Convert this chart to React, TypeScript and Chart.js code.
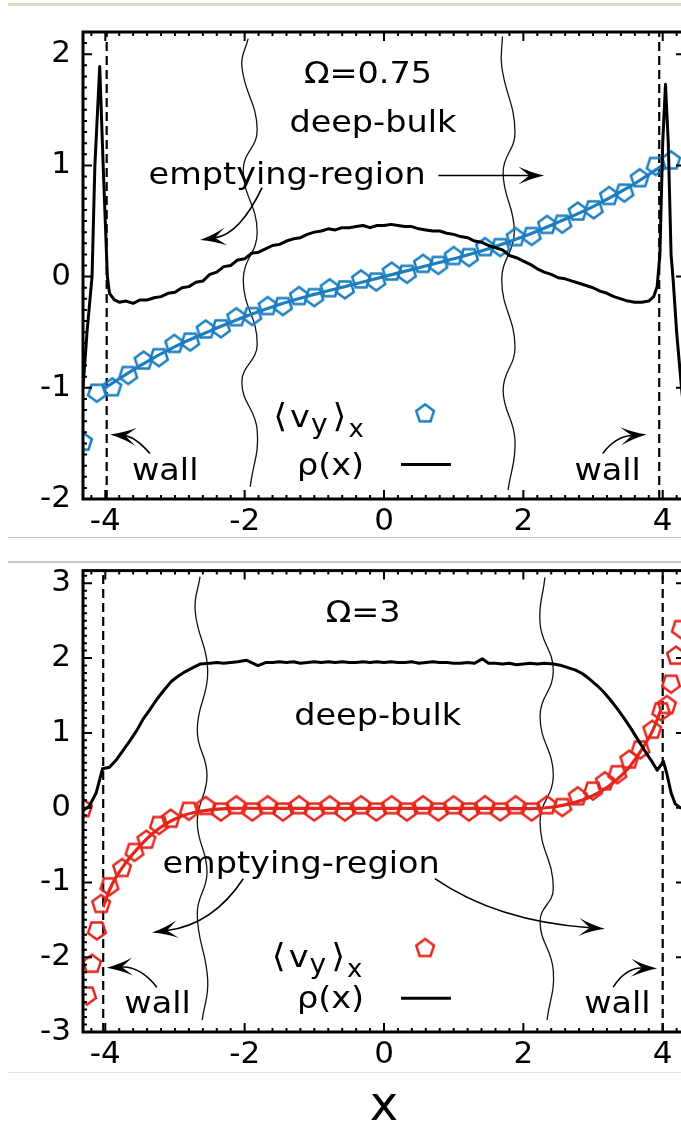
import React, { useEffect, useRef } from 'react';
import { Chart, registerables } from 'chart.js';

Chart.register(...registerables);

const FONT = "'DejaVu Sans', 'Noto Sans', sans-serif";
const BLUE = '#1b7ec0';
const RED = '#e3261d';

const X_MIN = -4.32;
const X_MAX = 4.32;
const X_TICKS = [-4, -2, 0, 2, 4];
const TOP_Y_TICKS = [-2, -1, 0, 1, 2];
const BOTTOM_Y_TICKS = [-3, -2, -1, 0, 1, 2, 3];

// ---------- top panel (Omega = 0.75) ----------
const TOP_RHO: [number, number][] = [
  [-4.32, -1.0], [-4.26, -0.48], [-4.19, 0.0], [-4.15, 0.99], [-4.08, 1.89], [-4.03, 0.99], [-3.97, 0.0],
  [-3.94, -0.15], [-3.87, -0.21], [-3.8, -0.23], [-3.7, -0.22], [-3.6, -0.24], [-3.5, -0.21], [-3.4, -0.21],
  [-3.3, -0.19], [-3.2, -0.18], [-3.1, -0.15], [-3.0, -0.14], [-2.9, -0.1], [-2.8, -0.09], [-2.7, -0.05],
  [-2.6, -0.04], [-2.5, 0.02], [-2.4, 0.04], [-2.3, 0.09], [-2.2, 0.1], [-2.1, 0.15], [-2.0, 0.16],
  [-1.9, 0.21], [-1.8, 0.22], [-1.7, 0.25], [-1.6, 0.28], [-1.5, 0.29], [-1.4, 0.32], [-1.3, 0.34],
  [-1.2, 0.35], [-1.1, 0.38], [-1.0, 0.4], [-0.9, 0.41], [-0.8, 0.43], [-0.7, 0.42], [-0.6, 0.44],
  [-0.5, 0.44], [-0.4, 0.45], [-0.3, 0.46], [-0.2, 0.44], [-0.1, 0.46], [0.0, 0.46], [0.1, 0.47],
  [0.2, 0.46], [0.3, 0.45], [0.4, 0.45], [0.5, 0.43], [0.6, 0.42], [0.7, 0.41], [0.8, 0.41], [0.9, 0.39],
  [1.0, 0.38], [1.1, 0.36], [1.2, 0.35], [1.3, 0.32], [1.4, 0.31], [1.5, 0.28], [1.6, 0.26], [1.7, 0.24],
  [1.8, 0.19], [1.9, 0.17], [2.0, 0.14], [2.1, 0.11], [2.2, 0.07], [2.3, 0.04], [2.4, 0.02], [2.5, -0.01],
  [2.6, -0.02], [2.7, -0.04], [2.8, -0.06], [2.9, -0.08], [3.0, -0.1], [3.1, -0.13], [3.2, -0.15],
  [3.3, -0.18], [3.4, -0.2], [3.5, -0.22], [3.6, -0.23], [3.7, -0.23], [3.8, -0.22], [3.87, -0.18],
  [3.92, -0.09], [3.96, 0.2], [4.0, 1.2], [4.04, 1.73], [4.08, 1.2], [4.12, 0.2], [4.15, -0.03],
  [4.2, -0.5], [4.27, -1.0], [4.32, -1.3],
];
const TOP_VY: [number, number][] = [
  [-4.32, -1.48], [-4.12, -1.05], [-3.9, -0.99], [-3.67, -0.89], [-3.45, -0.75], [-3.23, -0.73],
  [-3.01, -0.6], [-2.78, -0.59], [-2.56, -0.47], [-2.34, -0.47], [-2.12, -0.36], [-1.89, -0.36],
  [-1.67, -0.26], [-1.45, -0.27], [-1.22, -0.17], [-1.0, -0.19], [-0.78, -0.1], [-0.56, -0.12],
  [-0.33, -0.02], [-0.11, -0.05], [0.11, 0.05], [0.33, 0.02], [0.56, 0.12], [0.78, 0.1], [1.0, 0.19],
  [1.22, 0.17], [1.45, 0.27], [1.67, 0.26], [1.89, 0.36], [2.12, 0.36], [2.34, 0.47], [2.56, 0.47],
  [2.78, 0.59], [3.01, 0.6], [3.23, 0.73], [3.45, 0.75], [3.67, 0.89], [3.9, 0.99], [4.12, 1.05],
];
const TOP_FIT: [number, number][] = [
  [-4.0, -1.0], [-3.5, -0.8], [-3.0, -0.63], [-2.5, -0.49], [-2.0, -0.36], [-1.5, -0.25], [-1.0, -0.16],
  [-0.5, -0.08], [0.0, 0.0], [0.5, 0.08], [1.0, 0.16], [1.5, 0.25], [2.0, 0.36], [2.5, 0.49], [3.0, 0.63],
  [3.5, 0.8], [4.0, 1.0],
];
const TOP_WALLS = [-3.98, 3.95];
const TOP_WAVE_L: [number, number][] = [
  [-1.95, 2.14], [-2.04, 1.89], [-1.82, 1.32], [-2.02, 0.96], [-1.82, 0.4], [-2.02, -0.03],
  [-1.82, -0.61], [-2.04, -0.95], [-1.82, -1.38], [-1.92, -1.89],
];
const TOP_WAVE_R: [number, number][] = [
  [1.7, 2.16], [1.69, 1.89], [1.88, 1.3], [1.71, 0.94], [1.87, 0.4], [1.69, -0.03],
  [1.88, -0.63], [1.71, -1.02], [1.88, -1.47], [1.78, -1.92],
];

// ---------- bottom panel (Omega = 3) ----------
const BOTTOM_RHO: [number, number][] = [
  [-4.32, -0.04], [-4.23, 0.02], [-4.13, 0.2], [-4.04, 0.52], [-3.94, 0.54], [-3.85, 0.63], [-3.75, 0.76],
  [-3.65, 0.89], [-3.55, 1.03], [-3.46, 1.18], [-3.36, 1.31], [-3.26, 1.45], [-3.15, 1.58], [-3.05, 1.69],
  [-2.95, 1.76], [-2.85, 1.82], [-2.75, 1.87], [-2.64, 1.92], [-2.5, 1.93], [-2.4, 1.94], [-2.3, 1.93],
  [-2.2, 1.94], [-2.1, 1.95], [-1.97, 1.97], [-1.81, 1.9], [-1.7, 1.94], [-1.6, 1.94], [-1.5, 1.95],
  [-1.4, 1.94], [-1.3, 1.95], [-1.2, 1.93], [-1.1, 1.94], [-1.0, 1.95], [-0.9, 1.94], [-0.8, 1.95],
  [-0.7, 1.94], [-0.6, 1.95], [-0.5, 1.94], [-0.4, 1.94], [-0.3, 1.95], [-0.2, 1.94], [-0.1, 1.95],
  [0.0, 1.94], [0.1, 1.95], [0.2, 1.94], [0.3, 1.94], [0.4, 1.95], [0.5, 1.93], [0.6, 1.94], [0.7, 1.95],
  [0.8, 1.94], [0.9, 1.94], [1.0, 1.93], [1.1, 1.93], [1.2, 1.94], [1.3, 1.93], [1.41, 1.99], [1.5, 1.93],
  [1.6, 1.93], [1.7, 1.92], [1.8, 1.93], [1.9, 1.91], [2.0, 1.92], [2.1, 1.93], [2.2, 1.92], [2.3, 1.93],
  [2.43, 1.92], [2.55, 1.9], [2.65, 1.87], [2.75, 1.84], [2.85, 1.79], [2.95, 1.72], [3.05, 1.64],
  [3.15, 1.55], [3.25, 1.44], [3.35, 1.32], [3.45, 1.19], [3.55, 1.05], [3.65, 0.9], [3.75, 0.75],
  [3.85, 0.61], [3.92, 0.5], [4.01, 0.62], [4.06, 0.45], [4.12, 0.2], [4.18, 0.05], [4.25, 0.0], [4.32, -0.02],
];
const BOTTOM_VY: [number, number][] = [
  [-4.32, 0.0], [-4.26, -2.52], [-4.19, -2.08], [-4.12, -1.65], [-4.06, -1.28], [-3.94, -1.06],
  [-3.76, -0.8], [-3.58, -0.6], [-3.41, -0.42], [-3.23, -0.24], [-3.06, -0.14], [-2.8, -0.05],
  [-2.56, 0.03], [-2.34, -0.06], [-2.12, 0.04], [-1.89, -0.06], [-1.67, 0.04], [-1.45, -0.06],
  [-1.22, 0.04], [-1.0, -0.06], [-0.78, 0.04], [-0.56, -0.06], [-0.33, 0.04], [-0.11, -0.06],
  [0.11, 0.04], [0.33, -0.06], [0.56, 0.04], [0.78, -0.06], [1.0, 0.04], [1.22, -0.06], [1.45, 0.04],
  [1.67, -0.06], [1.89, 0.04], [2.12, -0.06], [2.34, 0.04], [2.56, 0.0], [2.78, 0.16], [3.0, 0.22],
  [3.17, 0.36], [3.35, 0.44], [3.52, 0.65], [3.68, 0.77], [3.85, 1.05], [3.98, 1.28], [4.06, 1.38],
  [4.12, 1.65], [4.19, 2.04], [4.26, 2.38],
];
const BOTTOM_FIT: [number, number][] = [
  [-4.03, -1.33], [-3.9, -1.02], [-3.7, -0.73], [-3.5, -0.51], [-3.3, -0.33], [-3.1, -0.2], [-2.9, -0.11],
  [-2.7, -0.06], [-2.5, -0.03], [-2.2, -0.01], [-1.5, -0.01], [0.0, -0.01], [1.5, -0.01], [2.2, -0.01],
  [2.5, 0.02], [2.7, 0.06], [2.9, 0.12], [3.1, 0.21], [3.3, 0.34], [3.5, 0.52], [3.7, 0.78], [3.85, 1.02],
  [3.97, 1.3],
];
const BOTTOM_WALLS = [-4.03, 4.0];
const BOTTOM_WAVE_L: [number, number][] = [
  [-2.64, 3.09], [-2.71, 2.63], [-2.53, 1.83], [-2.68, 1.04], [-2.54, 0.43], [-2.68, -0.19],
  [-2.54, -0.86], [-2.68, -1.42], [-2.53, -2.31], [-2.61, -2.84],
];
const BOTTOM_WAVE_R: [number, number][] = [
  [2.31, 3.08], [2.24, 2.46], [2.43, 1.83], [2.24, 1.22], [2.43, 0.43], [2.24, -0.19],
  [2.43, -1.08], [2.24, -1.52], [2.43, -2.18], [2.34, -2.84],
];

// ---------- annotations (data coordinates) ----------
type Txt = { t: string; x: number; y: number };
type Arrow = { from: [number, number]; ctrl: [number, number]; to: [number, number] };
type Legend = { vx: number; vy: number; mx: number; my: number; rx: number; ry: number; lx0: number; lx1: number; ly: number };

const TOP_TEXTS: Txt[] = [
  { t: 'Ω=0.75', x: -0.23, y: 1.74 },
  { t: 'deep-bulk', x: -0.16, y: 1.3 },
  { t: 'emptying-region', x: -1.39, y: 0.83 },
  { t: 'wall', x: -3.14, y: -1.83 },
  { t: 'wall', x: 3.21, y: -1.83 },
];
const TOP_ARROWS: Arrow[] = [
  { from: [0.78, 0.91], ctrl: [1.5, 0.91], to: [2.3, 0.91] },
  { from: [-1.75, 0.8], ctrl: [-2.07, 0.38], to: [-2.64, 0.33] },
  { from: [-3.36, -1.59], ctrl: [-3.57, -1.44], to: [-3.93, -1.42] },
  { from: [3.14, -1.59], ctrl: [3.32, -1.44], to: [3.77, -1.42] },
];
const TOP_LEGEND: Legend = { vx: -1.59, vy: -1.35, mx: 0.59, my: -1.225, rx: -1.25, ry: -1.78, lx0: 0.244, lx1: 0.96, ly: -1.69 };

const BOTTOM_TEXTS: Txt[] = [
  { t: 'Ω=3', x: -0.3, y: 2.48 },
  { t: 'deep-bulk', x: -0.09, y: 1.11 },
  { t: 'emptying-region', x: -1.19, y: -0.88 },
  { t: 'wall', x: -3.25, y: -2.75 },
  { t: 'wall', x: 3.35, y: -2.75 },
];
const BOTTOM_ARROWS: Arrow[] = [
  { from: [-2.02, -0.95], ctrl: [-2.45, -1.56], to: [-3.33, -1.67] },
  { from: [0.73, -0.95], ctrl: [1.62, -1.52], to: [3.17, -1.62] },
  { from: [-3.26, -2.4], ctrl: [-3.5, -2.12], to: [-3.98, -2.14] },
  { from: [3.29, -2.4], ctrl: [3.47, -2.14], to: [3.92, -2.15] },
];
const BOTTOM_LEGEND: Legend = { vx: -1.61, vy: -2.13, mx: 0.59, my: -1.87, rx: -1.25, ry: -2.68, lx0: 0.244, lx1: 0.96, ly: -2.55 };

// ---------- helpers ----------
const SX = 1.08;
const ANN = 31;
const SUB = 26;

function makePentagon(color: string): HTMLCanvasElement {
  const c = document.createElement('canvas');
  c.width = 28;
  c.height = 28;
  const g = c.getContext('2d')!;
  g.strokeStyle = color;
  g.lineWidth = 2.5;
  g.lineJoin = 'miter';
  g.beginPath();
  for (let k = 0; k < 5; k++) {
    const a = -Math.PI / 2 + (k * 2 * Math.PI) / 5;
    const px = 14 + 9.3 * Math.cos(a);
    const py = 14.9 + 9.3 * Math.sin(a);
    if (k === 0) g.moveTo(px, py);
    else g.lineTo(px, py);
  }
  g.closePath();
  g.stroke();
  return c;
}

function txt(ctx: CanvasRenderingContext2D, s: string, x: number, y: number, size: number, align: CanvasTextAlign, sx = SX): number {
  ctx.save();
  ctx.font = `${size}px ${FONT}`;
  ctx.fillStyle = '#000';
  ctx.textBaseline = 'alphabetic';
  ctx.textAlign = align;
  const w = ctx.measureText(s).width * sx;
  ctx.translate(x, y);
  ctx.scale(sx, 1);
  ctx.fillText(s, 0, 0);
  ctx.restore();
  return w;
}

function drawArrow(ctx: CanvasRenderingContext2D, x0: number, y0: number, cx: number, cy: number, x1: number, y1: number) {
  const ang = Math.atan2(y1 - cy, x1 - cx);
  const L = 26;
  const W = 9;
  const N = 0.58 * L;
  ctx.save();
  ctx.strokeStyle = '#000';
  ctx.fillStyle = '#000';
  ctx.lineWidth = 1.6;
  ctx.beginPath();
  ctx.moveTo(x0, y0);
  ctx.quadraticCurveTo(cx, cy, x1 - Math.cos(ang) * N, y1 - Math.sin(ang) * N);
  ctx.stroke();
  ctx.translate(x1, y1);
  ctx.rotate(ang);
  ctx.beginPath();
  ctx.moveTo(0, 0);
  ctx.quadraticCurveTo(-L * 0.55, -W * 0.35, -L, -W);
  ctx.lineTo(-N, 0);
  ctx.lineTo(-L, W);
  ctx.quadraticCurveTo(-L * 0.55, W * 0.35, 0, 0);
  ctx.closePath();
  ctx.fill();
  ctx.restore();
}

type PanelCfg = {
  texts: Txt[];
  arrows: Arrow[];
  legend: Legend;
  mark: HTMLCanvasElement;
  xTitle: boolean;
};

function panelPlugin(p: PanelCfg) {
  return {
    id: 'panelDecor',
    afterDatasetsDraw(chart: any) {
      const ctx: CanvasRenderingContext2D = chart.ctx;
      const a = chart.chartArea;
      const xs = chart.scales.x;
      const ys = chart.scales.y;
      const X = (v: number) => xs.getPixelForValue(v);
      const Y = (v: number) => ys.getPixelForValue(v);
      ctx.save();
      // inward ticks on all four sides
      ctx.strokeStyle = '#000';
      ctx.lineWidth = 2;
      ctx.beginPath();
      const xi0 = Math.ceil(xs.min / 0.2 - 1e-6);
      const xi1 = Math.floor(xs.max / 0.2 + 1e-6);
      for (let i = xi0; i <= xi1; i++) {
        const px = X(i * 0.2);
        const len = i % 10 === 0 ? 9 : 4;
        ctx.moveTo(px, a.bottom);
        ctx.lineTo(px, a.bottom - len);
        ctx.moveTo(px, a.top);
        ctx.lineTo(px, a.top + len);
      }
      const yi0 = Math.ceil(ys.min / 0.1 - 1e-6);
      const yi1 = Math.floor(ys.max / 0.1 + 1e-6);
      for (let i = yi0; i <= yi1; i++) {
        const py = Y(i * 0.1);
        const len = i % 10 === 0 ? 9 : 4;
        ctx.moveTo(a.left, py);
        ctx.lineTo(a.left + len, py);
        ctx.moveTo(a.right, py);
        ctx.lineTo(a.right - len, py);
      }
      ctx.stroke();
      ctx.lineWidth = 3;
      ctx.strokeRect(a.left, a.top, a.right - a.left, a.bottom - a.top);
      ctx.restore();

      // texts
      for (const t of p.texts) txt(ctx, t.t, X(t.x), Y(t.y), ANN, 'center');
      // arrows
      for (const ar of p.arrows) {
        drawArrow(ctx, X(ar.from[0]), Y(ar.from[1]), X(ar.ctrl[0]), Y(ar.ctrl[1]), X(ar.to[0]), Y(ar.to[1]));
      }
      // legend
      const L = p.legend;
      let cx = X(L.vx);
      const by = Y(L.vy);
      cx += txt(ctx, '⟨', cx, by, ANN + 2, 'left') + 3;
      cx += txt(ctx, 'v', cx, by, ANN, 'left') + 1;
      cx += txt(ctx, 'y', cx, by + 6, SUB, 'left') + 5;
      cx += txt(ctx, '⟩', cx, by, ANN + 2, 'left') + 2;
      txt(ctx, 'x', cx, by + 10, SUB - 2, 'left');
      ctx.drawImage(p.mark, X(L.mx) - p.mark.width / 2, Y(L.my) - p.mark.height / 2);
      txt(ctx, 'ρ(x)', X(L.rx), Y(L.ry), ANN, 'left');
      ctx.save();
      ctx.strokeStyle = '#000';
      ctx.lineWidth = 3;
      ctx.beginPath();
      ctx.moveTo(X(L.lx0), Y(L.ly));
      ctx.lineTo(X(L.lx1), Y(L.ly));
      ctx.stroke();
      ctx.restore();

      if (p.xTitle) {
        txt(ctx, 'x', X(0), chart.height - 4, 48, 'center', 1);
      }
    },
  };
}

const pts = (arr: [number, number][]) => arr.map(([x, y]) => ({ x, y }));

type BuildArgs = {
  rho: [number, number][];
  vy: [number, number][];
  fit: [number, number][];
  walls: number[];
  waveL: [number, number][];
  waveR: [number, number][];
  color: string;
  yMin: number;
  yMax: number;
  yTicks: number[];
  padTop: number;
  xAxisH: number;
  texts: Txt[];
  arrows: Arrow[];
  legend: Legend;
  xTitle: boolean;
};

function buildConfig(b: BuildArgs): any {
  const mark = makePentagon(b.color);
  const line = (data: [number, number][], color: string, width: number, extra: any = {}) => ({
    data: pts(data),
    showLine: true,
    borderColor: color,
    borderWidth: width,
    pointRadius: 0,
    fill: false,
    ...extra,
  });
  const datasets: any[] = [
    line(b.rho, '#000', 3, { borderJoinStyle: 'round' }),
    {
      data: pts(b.vy),
      showLine: false,
      pointStyle: mark,
      pointRadius: 11,
      pointRotation: (c: any) => (c.dataIndex % 2 ? 180 : 0),
      borderColor: b.color,
      backgroundColor: 'rgba(0,0,0,0)',
    },
    line(b.fit, b.color, 3.2, { tension: 0.4 }),
    ...b.walls.map((w) =>
      line([[w, b.yMin], [w, b.yMax]], '#000', 2.2, { borderDash: [9, 5] })
    ),
    line(b.waveL, '#111', 1.3, { tension: 0.45 }),
    line(b.waveR, '#111', 1.3, { tension: 0.45 }),
  ];
  const tickFont = { family: FONT, size: 31 };
  return {
    type: 'scatter',
    data: { datasets },
    options: {
      responsive: false,
      maintainAspectRatio: false,
      animation: false,
      devicePixelRatio: 1,
      events: [],
      layout: { padding: { top: b.padTop, right: 15, left: 0, bottom: 0 } },
      plugins: { legend: { display: false }, tooltip: { enabled: false } },
      scales: {
        x: {
          type: 'linear',
          min: X_MIN,
          max: X_MAX,
          grid: { display: false, drawTicks: false },
          border: { display: false },
          ticks: { font: tickFont, color: '#000', padding: 4, maxRotation: 0, autoSkip: false, callback: (v: number) => String(v) },
          afterBuildTicks: (s: any) => {
            s.ticks = X_TICKS.map((v) => ({ value: v }));
          },
          afterFit: (s: any) => {
            s.height = b.xAxisH;
          },
        },
        y: {
          type: 'linear',
          min: b.yMin,
          max: b.yMax,
          grid: { display: false, drawTicks: false },
          border: { display: false },
          ticks: { font: tickFont, color: '#000', padding: 12, autoSkip: false, callback: (v: number) => String(v) },
          afterBuildTicks: (s: any) => {
            s.ticks = b.yTicks.map((v) => ({ value: v }));
          },
          afterFit: (s: any) => {
            s.width = 83;
          },
        },
      },
    },
    plugins: [panelPlugin({ texts: b.texts, arrows: b.arrows, legend: b.legend, mark, xTitle: b.xTitle })],
  };
}

function PanelChart({ top, height, args }: { top: number; height: number; args: BuildArgs }) {
  const ref = useRef<HTMLCanvasElement>(null);
  useEffect(() => {
    const chart = new Chart(ref.current as HTMLCanvasElement, buildConfig(args));
    return () => chart.destroy();
  }, []);
  return (
    <canvas
      ref={ref}
      width={700}
      height={height}
      style={{ position: 'absolute', left: 0, top, width: 700, height }}
    />
  );
}

const TOP_ARGS: BuildArgs = {
  rho: TOP_RHO, vy: TOP_VY, fit: TOP_FIT, walls: TOP_WALLS, waveL: TOP_WAVE_L, waveR: TOP_WAVE_R,
  color: BLUE, yMin: -2, yMax: 2.2, yTicks: TOP_Y_TICKS, padTop: 32, xAxisH: 37,
  texts: TOP_TEXTS, arrows: TOP_ARROWS, legend: TOP_LEGEND, xTitle: false,
};
const BOTTOM_ARGS: BuildArgs = {
  rho: BOTTOM_RHO, vy: BOTTOM_VY, fit: BOTTOM_FIT, walls: BOTTOM_WALLS, waveL: BOTTOM_WAVE_L, waveR: BOTTOM_WAVE_R,
  color: RED, yMin: -3, yMax: 3.17, yTicks: BOTTOM_Y_TICKS, padTop: 25, xAxisH: 92,
  texts: BOTTOM_TEXTS, arrows: BOTTOM_ARROWS, legend: BOTTOM_LEGEND, xTitle: true,
};

export default function App() {
  const rule = (top: number, h: number, color: string): React.CSSProperties => ({
    position: 'absolute', left: 8, top, width: 673, height: h, background: color, zIndex: 2,
  });
  return (
    <div style={{ position: 'absolute', left: 0, top: 0, width: 681, height: 1124, overflow: 'hidden', background: '#fff' }}>
      <PanelChart top={0} height={536} args={TOP_ARGS} />
      <PanelChart top={540} height={584} args={BOTTOM_ARGS} />
      <div style={rule(3, 3, '#dedbc9')} />
      <div style={rule(537, 1, '#c4c4c4')} />
      <div style={{ ...rule(561, 2, '#c8c8c8'), zIndex: 0 }} />
      <div style={rule(1072, 1, '#e2e2e2')} />
    </div>
  );
}
